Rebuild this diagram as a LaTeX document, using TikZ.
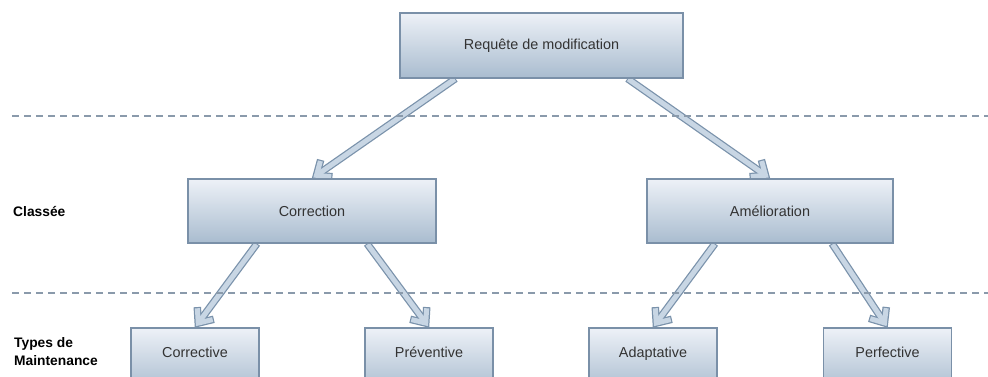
\documentclass[tikz,border=0pt]{standalone}
\usepackage{fontspec}
\setmainfont{Liberation Sans}
\usetikzlibrary{calc}

\definecolor{boxedge}{HTML}{7A90A8}
\definecolor{boxtop}{HTML}{EDF1F7}
\definecolor{boxbot}{HTML}{A9BCCF}
\definecolor{arrowedge}{HTML}{7A92AB}
\definecolor{arrowfill}{HTML}{C8D6E4}
\definecolor{sepline}{HTML}{8A9AAB}
\definecolor{txt}{HTML}{333333}

\pgfdeclarelayer{back}
\pgfsetlayers{back,main}

\tikzset{
  stage/.style={draw=boxedge, line width=1.1pt, top color=boxtop, bottom color=boxbot,
    text=txt, font=\fontsize{14.4}{17}\selectfont, inner sep=0pt},
  upper/.style={stage, minimum height=64pt},
  lower/.style={stage, minimum width=128pt, minimum height=64pt, text depth=16pt},
  separator/.style={draw=sepline, line width=1.3pt, dash pattern=on 7pt off 5pt},
  rowlabel/.style={font=\bfseries\fontsize{13.8}{18}\selectfont, text=black,
    align=left, anchor=west, inner sep=0pt},
  arrowout/.style={draw=arrowedge, line width=7.5pt, line join=miter},
  arrowin/.style={draw=arrowfill, line width=5pt, line join=miter},
}

% hollow block arrow from #1 to #2 with an open chevron head
\newcommand\blockarrow[2]{%
  \coordinate (ba-s) at (#1);
  \coordinate (ba-e) at (#2);
  \coordinate (ba-t) at ($(ba-e)!5.5pt!(ba-s)$);
  \path[arrowout] (ba-s) -- (ba-t);
  \path[arrowout] ($(ba-t)!16pt!40:(ba-s)$) -- (ba-t) -- ($(ba-t)!16pt!-40:(ba-s)$);
  \path[arrowin] ($(ba-s)!1pt!(ba-t)$) -- (ba-t);
  \path[arrowin] ($(ba-t)!14.8pt!40:(ba-s)$) -- (ba-t) -- ($(ba-t)!14.8pt!-40:(ba-s)$);
}

\begin{document}
\begin{tikzpicture}[x=1pt, y=-1pt]
  \useasboundingbox (0,0) rectangle (988,376);
  \clip (0,0) rectangle (988,376);

  % level separators
  \coordinate (sep1a) at (12,116);
  \coordinate (sep1b) at (988,116);
  \coordinate (sep2a) at (12,293);
  \coordinate (sep2b) at (988,293);
  \draw[separator] (sep1a) -- (sep1b);
  \draw[separator] (sep2a) -- (sep2b);

  % row labels
  \node[rowlabel] (lclass) at (13,211) {Classée};
  \node[rowlabel] (ltypes) at (14,352) {Types de\\Maintenance};

  % boxes
  \node[upper, minimum width=283pt, minimum height=65pt] (req) at (541.5,45.5) {Requête de modification};
  \node[upper, minimum width=248pt] (corr) at (312,211) {Correction};
  \node[upper, minimum width=246pt] (amel) at (770,211) {Amélioration};
  \node[lower] (cv) at (195,360) {Corrective};
  \node[lower] (pv) at (429,360) {Préventive};
  \node[lower] (ad) at (653,360) {Adaptative};
  \node[lower] (pf) at (887.5,360) {Perfective};

  % connectors
  \begin{pgfonlayer}{back}
    \blockarrow{[xshift=-86pt]req.south}{corr.north}
    \blockarrow{[xshift=86pt]req.south}{amel.north}
    \blockarrow{[xshift=-55pt]corr.south}{cv.north}
    \blockarrow{[xshift=55pt]corr.south}{pv.north}
    \blockarrow{[xshift=-55pt]amel.south}{ad.north}
    \blockarrow{[xshift=62pt]amel.south}{pf.north}
  \end{pgfonlayer}
\end{tikzpicture}
\end{document}
